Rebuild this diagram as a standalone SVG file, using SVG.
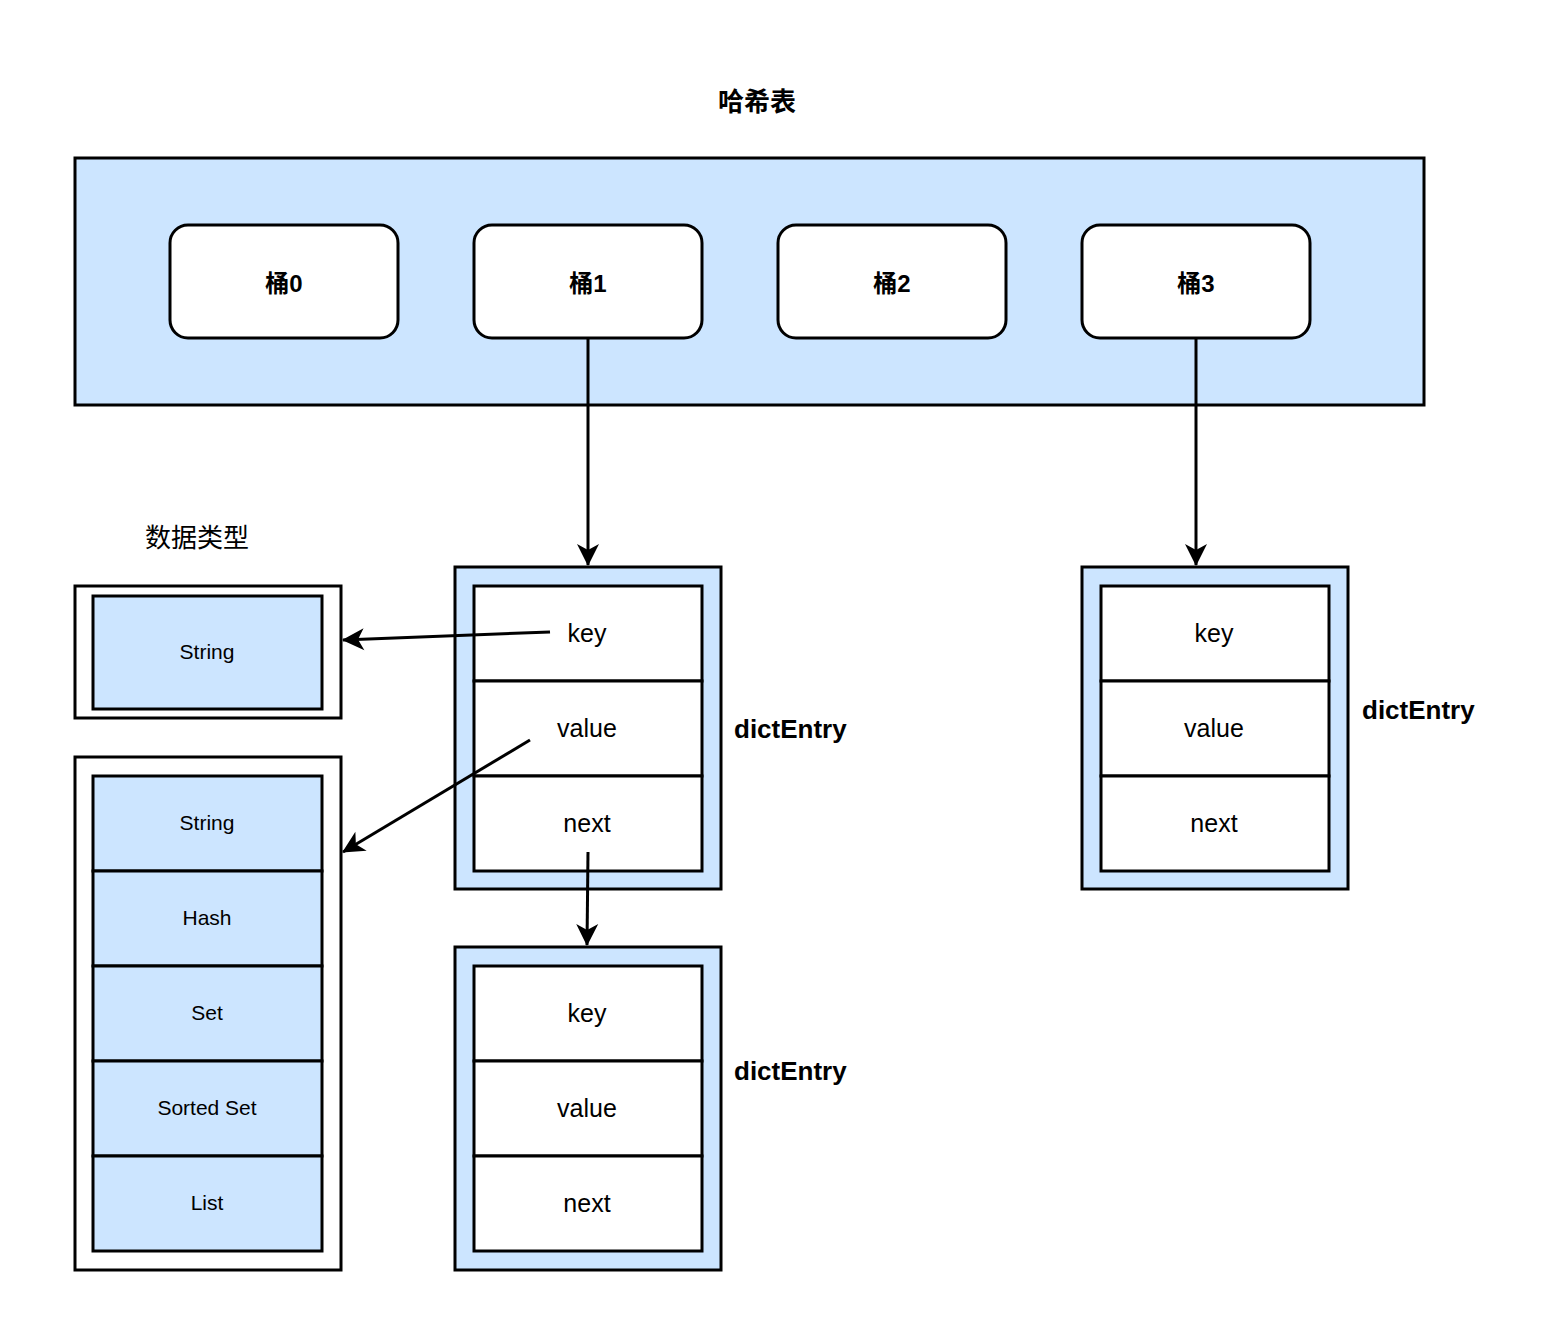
<svg xmlns="http://www.w3.org/2000/svg" width="1550" height="1344" viewBox="0 0 1550 1344">
<style>
.b{stroke:#000;stroke-width:3}
.blue{fill:#cce5ff}
.w{fill:#fff}
text{font-family:"Liberation Sans",Arial,"Noto Sans CJK SC",sans-serif;text-anchor:middle;dominant-baseline:central}
.bk{font-size:24px;font-weight:bold}
.c{font-size:25px}
.t{font-size:21px}
.de{font-size:26px;font-weight:bold;text-anchor:start}
.e{stroke:#000;stroke-width:3;fill:none;marker-end:url(#a)}
</style>
<defs><marker id="a" viewBox="-24 -12 26 24" refX="0" refY="0" markerWidth="26" markerHeight="24" markerUnits="userSpaceOnUse" orient="auto"><path d="M1,0 L-21,-11 L-15,0 L-21,11 Z" fill="#000"/></marker></defs>
<rect width="1550" height="1344" fill="#fff"/>
<g id="title"><text x="757" y="102" class="bk" style="font-size:26px">哈希表</text></g>
<g id="hashtable"><rect x="75" y="158" width="1349" height="247" class="b blue"/></g>
<g id="b0"><rect x="170" y="225" width="228" height="113" rx="18" class="b w"/><text x="284" y="283" class="bk">桶0</text></g>
<g id="b1"><rect x="474" y="225" width="228" height="113" rx="18" class="b w"/><text x="588" y="283" class="bk">桶1</text></g>
<g id="b2"><rect x="778" y="225" width="228" height="113" rx="18" class="b w"/><text x="892" y="283" class="bk">桶2</text></g>
<g id="b3"><rect x="1082" y="225" width="228" height="113" rx="18" class="b w"/><text x="1196" y="283" class="bk">桶3</text></g>
<g id="typesLabel"><text x="197" y="538" style="font-size:26px">数据类型</text></g>
<g id="entry1"><rect x="455" y="567" width="266" height="322" class="b blue"/>
<rect x="474" y="586" width="228" height="95" class="b w"/><rect x="474" y="681" width="228" height="95" class="b w"/><rect x="474" y="776" width="228" height="95" class="b w"/>
<text x="587" y="633" class="c">key</text><text x="587" y="728" class="c">value</text><text x="587" y="823" class="c">next</text>
<text x="734" y="729" class="de">dictEntry</text></g>
<g id="entry3"><rect x="1082" y="567" width="266" height="322" class="b blue"/>
<rect x="1101" y="586" width="228" height="95" class="b w"/><rect x="1101" y="681" width="228" height="95" class="b w"/><rect x="1101" y="776" width="228" height="95" class="b w"/>
<text x="1214" y="633" class="c">key</text><text x="1214" y="728" class="c">value</text><text x="1214" y="823" class="c">next</text>
<text x="1362" y="710" class="de">dictEntry</text></g>
<g id="entry2"><rect x="455" y="947" width="266" height="323" class="b blue"/>
<rect x="474" y="966" width="228" height="95" class="b w"/><rect x="474" y="1061" width="228" height="95" class="b w"/><rect x="474" y="1156" width="228" height="95" class="b w"/>
<text x="587" y="1013" class="c">key</text><text x="587" y="1108" class="c">value</text><text x="587" y="1203" class="c">next</text>
<text x="734" y="1071" class="de">dictEntry</text></g>
<g id="stringBox"><rect x="75" y="586" width="266" height="132" class="b w"/><rect x="93" y="596" width="229" height="113" class="b blue"/><text x="207" y="651" class="t">String</text></g>
<g id="typesBox"><rect x="75" y="757" width="266" height="513" class="b w"/>
<rect x="93" y="776" width="229" height="95" class="b blue"/><rect x="93" y="871" width="229" height="95" class="b blue"/><rect x="93" y="966" width="229" height="95" class="b blue"/><rect x="93" y="1061" width="229" height="95" class="b blue"/><rect x="93" y="1156" width="229" height="95" class="b blue"/>
<text x="207" y="822" class="t">String</text><text x="207" y="917" class="t">Hash</text><text x="207" y="1012" class="t">Set</text><text x="207" y="1107" class="t">Sorted Set</text><text x="207" y="1202" class="t">List</text></g>
<g id="connectors">
<path d="M588,338 V565" class="e"/>
<path d="M1196,338 V565" class="e"/>
<path d="M550,632 L343,640" class="e"/>
<path d="M530,740 L343,852" class="e"/>
<path d="M588,852 L587,945" class="e"/>
</g>
</svg>
